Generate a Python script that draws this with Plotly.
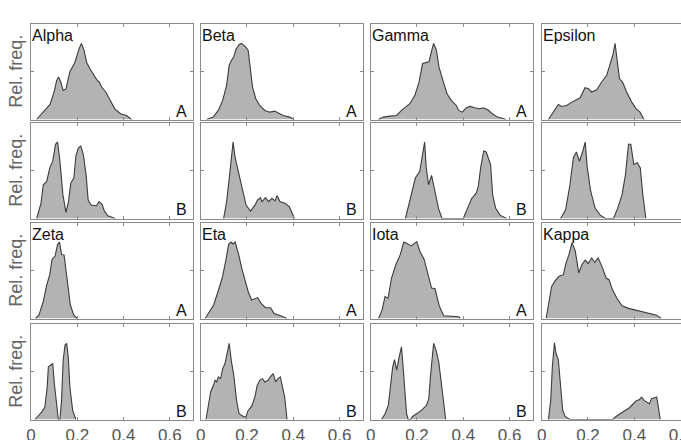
import plotly.graph_objects as go

# ---------------- data (x = value, y = relative frequency) ----------------
alpha_a_x = [0.024,0.053,0.082,0.100,0.111,0.119,0.129,0.139,0.151,0.168,0.190,0.208,0.218,0.229,0.240,0.254,0.272,0.286,0.295,0.305,0.323,0.341,0.362,0.387,0.413,0.434]
alpha_a_y = [0,0.077,0.158,0.29,0.41,0.446,0.39,0.305,0.32,0.50,0.60,0.744,0.797,0.726,0.60,0.533,0.463,0.41,0.393,0.34,0.288,0.2,0.112,0.06,0.042,0]

beta_a_x = [0.026,0.054,0.076,0.095,0.112,0.123,0.133,0.143,0.152,0.166,0.176,0.191,0.205,0.212,0.224,0.238,0.255,0.277,0.298,0.320,0.339,0.356,0.385,0.402]
beta_a_y = [0,0.025,0.095,0.2,0.358,0.568,0.621,0.656,0.733,0.786,0.797,0.768,0.726,0.586,0.34,0.218,0.147,0.095,0.077,0.088,0.06,0.042,0.025,0]

gamma_a_x = [0.033,0.055,0.083,0.112,0.133,0.169,0.191,0.209,0.224,0.238,0.252,0.262,0.272,0.284,0.295,0.312,0.330,0.348,0.370,0.380,0.396,0.413,0.430,0.449,0.470,0.488,0.506,0.525,0.549,0.585]
gamma_a_y = [0,0.025,0.035,0.042,0.095,0.165,0.253,0.393,0.586,0.593,0.604,0.709,0.797,0.726,0.551,0.41,0.27,0.2,0.147,0.095,0.077,0.123,0.137,0.123,0.112,0.123,0.102,0.06,0.025,0]

epsilon_a_x = [0.029,0.050,0.072,0.086,0.108,0.130,0.151,0.166,0.187,0.202,0.216,0.238,0.259,0.281,0.298,0.307,0.317,0.327,0.336,0.350,0.367,0.389,0.408,0.425,0.442]
epsilon_a_y = [0,0.077,0.158,0.137,0.147,0.182,0.207,0.228,0.333,0.323,0.288,0.312,0.393,0.463,0.6,0.67,0.797,0.586,0.428,0.39,0.288,0.182,0.112,0.077,0]

alpha_b_x = [0.0245,0.043,0.053,0.068,0.081,0.094,0.106,0.115,0.125,0.138,0.151,0.162,0.172,0.185,0.194,0.204,0.215,0.226,0.238,0.247,0.260,0.283,0.294,0.307,0.317,0.332,0.364]
alpha_b_y = [0,0.159,0.353,0.389,0.53,0.6,0.777,0.80,0.6,0.247,0.064,0.177,0.371,0.424,0.654,0.735,0.76,0.671,0.459,0.194,0.141,0.134,0.177,0.148,0.078,0.028,0]

beta_b_x = [0.099,0.112,0.125,0.134,0.140,0.149,0.162,0.177,0.196,0.215,0.233,0.246,0.258,0.265,0.280,0.293,0.308,0.321,0.330,0.342,0.364,0.383,0.405]
beta_b_y = [0,0.177,0.459,0.671,0.80,0.634,0.495,0.318,0.141,0.078,0.134,0.194,0.219,0.177,0.219,0.177,0.212,0.184,0.24,0.177,0.159,0.124,0]

gamma_b_x = [0.150,0.175,0.193,0.212,0.225,0.233,0.240,0.250,0.263,0.274,0.293,0.308,0.400,0.418,0.437,0.456,0.465,0.475,0.488,0.499,0.518,0.527,0.540,0.559,0.587]
gamma_b_y = [0,0.247,0.424,0.495,0.707,0.80,0.53,0.353,0.452,0.318,0.106,0,0,0.106,0.212,0.265,0.336,0.53,0.707,0.696,0.565,0.247,0.106,0.035,0]

epsilon_b_x = [0.081,0.103,0.122,0.137,0.150,0.163,0.178,0.188,0.197,0.212,0.231,0.253,0.276,0.310,0.328,0.347,0.362,0.375,0.385,0.398,0.413,0.426,0.437,0.450]
epsilon_b_y = [0,0.088,0.353,0.636,0.696,0.6,0.707,0.80,0.53,0.283,0.106,0.035,0,0,0.106,0.247,0.459,0.777,0.777,0.565,0.583,0.53,0.247,0]

zeta_a_x = [0.019,0.034,0.053,0.068,0.081,0.091,0.104,0.115,0.123,0.132,0.143,0.157,0.170,0.185,0.200]
zeta_a_y = [0,0.035,0.177,0.353,0.459,0.618,0.654,0.777,0.80,0.671,0.664,0.389,0.141,0.035,0]

eta_a_x = [0.019,0.037,0.056,0.075,0.093,0.108,0.121,0.131,0.140,0.149,0.164,0.177,0.192,0.205,0.220,0.233,0.246,0.261,0.280,0.302,0.317,0.345,0.373]
eta_a_y = [0,0.07,0.141,0.283,0.424,0.6,0.777,0.80,0.78,0.80,0.671,0.53,0.389,0.283,0.194,0.205,0.219,0.159,0.113,0.113,0.053,0.028,0]

iota_a_x = [0.034,0.049,0.062,0.075,0.090,0.109,0.128,0.143,0.152,0.175,0.199,0.212,0.231,0.250,0.263,0.278,0.296,0.315,0.381,0.387]
iota_a_y = [0,0.088,0.23,0.212,0.424,0.565,0.671,0.80,0.79,0.76,0.805,0.707,0.618,0.442,0.318,0.311,0.134,0.028,0.018,0]

kappa_a_x = [0.019,0.032,0.043,0.056,0.075,0.094,0.103,0.118,0.131,0.145,0.160,0.174,0.188,0.201,0.216,0.229,0.244,0.263,0.278,0.291,0.306,0.325,0.347,0.375,0.403,0.432,0.469,0.497,0.516]
kappa_a_y = [0,0.177,0.336,0.389,0.442,0.459,0.565,0.671,0.795,0.707,0.477,0.565,0.611,0.576,0.633,0.587,0.633,0.53,0.424,0.406,0.3,0.212,0.134,0.106,0.088,0.07,0.053,0.035,0]

zeta_b_x = [0.017,0.032,0.046,0.060,0.070,0.075,0.085,0.094,0.101,0.111,0.118,0.125,0.132,0.139,0.147,0.154,0.161,0.168,0.180,0.194]
zeta_b_y = [0,0.042,0.077,0.13,0.34,0.551,0.568,0.586,0.375,0.13,0,0,0.2,0.621,0.779,0.797,0.656,0.34,0.095,0]

eta_b_x = [0.023,0.033,0.043,0.055,0.062,0.069,0.076,0.086,0.095,0.105,0.115,0.123,0.133,0.143,0.155,0.166,0.184,0.195,0.205,0.220,0.234,0.244,0.255,0.267,0.277,0.291,0.301,0.313,0.324,0.334,0.344,0.353,0.363,0.373]
eta_b_y = [0,0.13,0.288,0.358,0.41,0.393,0.446,0.428,0.533,0.586,0.691,0.797,0.604,0.463,0.2,0.06,0.032,0.025,0.095,0.137,0.235,0.358,0.41,0.428,0.393,0.41,0.446,0.481,0.393,0.428,0.446,0.358,0.235,0]

iota_b_x = [0.047,0.062,0.076,0.086,0.095,0.103,0.112,0.123,0.133,0.140,0.148,0.155,0.162,0.172,0.181,0.198,0.219,0.241,0.251,0.258,0.267,0.272,0.284,0.294,0.302,0.313,0.324]
iota_b_y = [0,0.06,0.147,0.34,0.551,0.628,0.516,0.656,0.761,0.551,0.27,0.06,0,0,0.032,0.06,0.095,0.147,0.218,0.446,0.674,0.797,0.709,0.604,0.446,0.2,0]

kappa_b_x = [0.029,0.039,0.046,0.050,0.055,0.062,0.072,0.082,0.091,0.101,0.122,0.307,0.321,0.339,0.360,0.379,0.396,0.410,0.422,0.432,0.442,0.454,0.465,0.475,0.486,0.497,0.504,0.512]
kappa_b_y = [0,0.2,0.551,0.726,0.804,0.691,0.621,0.34,0.095,0.032,0,0,0.032,0.06,0.095,0.123,0.165,0.2,0.207,0.235,0.2,0.182,0.165,0.218,0.228,0.235,0.13,0]

titles = ["Alpha", "Beta", "Gamma", "Epsilon", "", "", "", "",
          "Zeta", "Eta", "Iota", "Kappa", "", "", "", ""]
letters = ["A", "A", "A", "", "B", "B", "B", "",
           "A", "A", "A", "", "B", "B", "B", ""]
x_tickvals = [0, 0.2, 0.4, 0.6]
x_ticktext = ["0", "0.2", "0.4", "0.6"]
y_label = "Rel. freq."

panels = [
    (alpha_a_x, alpha_a_y), (beta_a_x, beta_a_y), (gamma_a_x, gamma_a_y), (epsilon_a_x, epsilon_a_y),
    (alpha_b_x, alpha_b_y), (beta_b_x, beta_b_y), (gamma_b_x, gamma_b_y), (epsilon_b_x, epsilon_b_y),
    (zeta_a_x, zeta_a_y), (eta_a_x, eta_a_y), (iota_a_x, iota_a_y), (kappa_a_x, kappa_a_y),
    (zeta_b_x, zeta_b_y), (eta_b_x, eta_b_y), (iota_b_x, iota_b_y), (kappa_b_x, kappa_b_y),
]

# ---------------- layout geometry (pixels) ----------------
W, H = 681, 440
col_left = [31, 200.7, 370.7, 541.7]
panel_w = 162
row_top = [24, 123, 223, 324]
panel_h = 95.5
x_max = 0.7

FONT = "Liberation Sans, Arial, sans-serif"
axis_col = "#8a8a8a"
fill_col = "#b3b3b3"
line_col = "#3c3c3c"

fig = go.Figure()
layout = {}
annotations = []

for i, (px, py) in enumerate(panels):
    r, c = divmod(i, 4)
    n = i + 1
    xa = "x" if n == 1 else f"x{n}"
    ya = "y" if n == 1 else f"y{n}"
    fig.add_trace(go.Scatter(
        x=px, y=py, xaxis=xa, yaxis=ya, mode="lines", fill="tozeroy",
        fillcolor=fill_col, line=dict(color=line_col, width=1.1),
        hoverinfo="skip", showlegend=False))

    left = col_left[c]
    right = min(left + panel_w, W)
    top = row_top[r]
    bot = top + panel_h
    xr = [0, x_max * (right - left) / panel_w]

    layout["xaxis" if n == 1 else f"xaxis{n}"] = dict(
        domain=[left / W, right / W], range=xr, anchor=ya, automargin=False,
        showline=True, linecolor=axis_col, linewidth=1, mirror="ticks",
        ticks="inside", ticklen=3, tickcolor=axis_col, tickwidth=1,
        tickvals=x_tickvals, ticktext=x_ticktext,
        showticklabels=(r == 3), ticklabelstandoff=0, ticklabeloverflow="allow",
        tickfont=dict(family=FONT, size=17, color="#555555"),
        showgrid=False, zeroline=False, fixedrange=True)
    layout["yaxis" if n == 1 else f"yaxis{n}"] = dict(
        domain=[1 - bot / H, 1 - top / H], range=[0, 1], anchor=xa, automargin=False,
        showline=True, linecolor=axis_col, linewidth=1,
        mirror="ticks" if c < 3 else False,
        ticks="inside", ticklen=3, tickcolor=axis_col, tickwidth=1,
        tickvals=[0.5], showticklabels=False,
        showgrid=False, zeroline=False, fixedrange=True)

    if titles[i]:
        annotations.append(dict(
            xref="paper", yref="paper", x=(left - 1) / W, y=1 - (top + 1) / H,
            xanchor="left", yanchor="top", showarrow=False, text=titles[i],
            font=dict(family=FONT, size=16, color="#111111")))
    if letters[i]:
        annotations.append(dict(
            xref="paper", yref="paper", x=(left + panel_w - 4) / W, y=1 - (bot + 2) / H,
            xanchor="right", yanchor="bottom", showarrow=False, text=letters[i],
            font=dict(family=FONT, size=16, color="#111111")))

for r in range(4):
    annotations.append(dict(
        xref="paper", yref="paper", x=16 / W, y=1 - (row_top[r] + panel_h / 2) / H,
        xanchor="center", yanchor="middle", showarrow=False, text=y_label,
        textangle=-90, font=dict(family=FONT, size=18, color="#666666")))

fig.update_layout(
    template="none",
    width=W, height=H, margin=dict(l=0, r=0, t=0, b=0, autoexpand=False),
    paper_bgcolor="white", plot_bgcolor="white",
    annotations=annotations, **layout)

fig.write_html("out.html", config={"displayModeBar": False})
